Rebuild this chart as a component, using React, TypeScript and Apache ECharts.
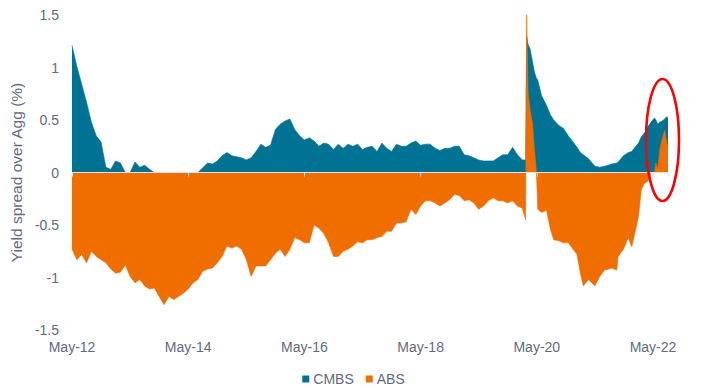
import React, { useEffect, useRef } from "react";
import * as echarts from "echarts";

// Month offsets from May-2012 (0 = May-12). Monthly values first, then finer detail from Feb-2020 on.
const cmbsMonthly = [
  1.21, 1.01, 0.84, 0.67, 0.48, 0.35, 0.29, 0.05, 0.03, 0.11,
  0.09, 0, 0, 0.1, 0.05, 0.07, 0.03, 0, 0, 0,
  0, 0, 0, 0, 0, 0, 0, 0.045, 0.09, 0.08,
  0.11, 0.16, 0.19, 0.16, 0.15, 0.14, 0.12, 0.14, 0.2, 0.27,
  0.24, 0.26, 0.41, 0.46, 0.49, 0.51, 0.41, 0.35, 0.31, 0.33,
  0.3, 0.25, 0.28, 0.27, 0.22, 0.27, 0.23, 0.27, 0.25, 0.27,
  0.22, 0.24, 0.25, 0.2, 0.28, 0.23, 0.2, 0.27, 0.25, 0.25,
  0.28, 0.3, 0.26, 0.27, 0.27, 0.23, 0.21, 0.23, 0.23, 0.25,
  0.25, 0.17, 0.16, 0.14, 0.12, 0.11, 0.11, 0.11, 0.14, 0.17,
  0.17, 0.24, 0.17, 0.12,
];
const absMonthly = [
  -0.73, -0.83, -0.78, -0.86, -0.75, -0.8, -0.83, -0.86, -0.92, -0.96,
  -0.95, -0.88, -0.99, -1.05, -1.02, -1.08, -1.11, -1.1, -1.18, -1.26,
  -1.18, -1.21, -1.18, -1.15, -1.11, -1.05, -1.02, -0.94, -0.92, -0.91,
  -0.86, -0.8, -0.7, -0.72, -0.7, -0.73, -0.83, -0.99, -0.89, -0.89,
  -0.89, -0.83, -0.77, -0.73, -0.8, -0.73, -0.62, -0.64, -0.67, -0.67,
  -0.5, -0.53, -0.58, -0.67, -0.8, -0.8, -0.75, -0.73, -0.7, -0.66,
  -0.67, -0.64, -0.64, -0.62, -0.61, -0.56, -0.56, -0.48, -0.48, -0.47,
  -0.35, -0.4, -0.32, -0.27, -0.27, -0.29, -0.32, -0.29, -0.26, -0.21,
  -0.22, -0.27, -0.26, -0.29, -0.35, -0.32, -0.27, -0.24, -0.27, -0.27,
  -0.29, -0.27, -0.32, -0.34,
];
const recentMonths = [
  93.7, 93.9, 94.2, 94.6, 95.1, 95.5, 95.9, 96.2, 97, 98,
  98.8, 99.5, 100.5, 101.5, 102.5, 103.5, 104.3, 105, 105.6, 106.7,
  108, 109, 110, 111.5, 112.5, 112.8, 113.9, 114.9, 115.6, 116.3,
  117, 117.6, 118.3, 119, 119.6, 120.3, 120.6, 121, 121.4, 121.9,
  122.4, 122.8, 123.1,
];
const cmbsRecent = [
  0.12, 1.3, 1.22, 1.18, 1.06, 0.96, 0.9, 0.88, 0.73, 0.64,
  0.55, 0.5, 0.45, 0.42, 0.35, 0.29, 0.24, 0.19, 0.17, 0.13,
  0.06, 0.05, 0.06, 0.08, 0.09, 0.1, 0.16, 0.19, 0.2, 0.24,
  0.28, 0.34, 0.38, 0.44, 0.48, 0.52, 0.5, 0.46, 0.48, 0.49,
  0.51, 0.53, 0.52,
];
const absRecent = [
  -0.45, 1.5, 0.75, 0.6, 0.47, 0.22, 0.02, -0.35, -0.38, -0.36,
  -0.54, -0.64, -0.65, -0.67, -0.67, -0.73, -0.78, -0.96, -1.08, -1.02,
  -1.08, -0.99, -0.93, -0.91, -0.93, -0.8, -0.73, -0.62, -0.71, -0.57,
  -0.42, -0.16, -0.1, -0.08, 0, 0, 0.09, 0.03, 0.22, 0.32,
  0.4, 0.29, 0.26,
];
const tickLabelYears = ["12", "14", "16", "18", "20", "22"];

const seriesData = (monthly: number[], recent: number[]) =>
  monthly.map((v, i) => [i, v]).concat(recent.map((v, i) => [recentMonths[i], v]));

const TEXT = "#5E6A88";
const FONT = 'Arial, "Liberation Sans", sans-serif';

export default function App() {
  const ref = useRef<HTMLDivElement>(null);
  useEffect(() => {
    if (!ref.current) return;
    const chart = echarts.init(ref.current, undefined, { renderer: "svg" });
    const xMax = recentMonths[recentMonths.length - 1];
    chart.setOption({
      animation: false,
      textStyle: { fontFamily: FONT },
      grid: { left: 69, right: 707 - 668, top: 15, bottom: 61 },
      legend: {
        data: ["CMBS", "ABS"],
        left: "center",
        top: 367,
        itemWidth: 7,
        itemHeight: 7,
        itemGap: 12,
        icon: "rect",
        textStyle: { color: TEXT, fontSize: 14, fontFamily: FONT, padding: [0, 0, 0, -1] },
      },
      xAxis: [
        {
          type: "value",
          min: 0,
          max: xMax,
          interval: 24,
          position: "bottom",
          axisLine: { show: false, onZero: false },
          axisTick: { show: false },
          splitLine: { show: false },
          axisLabel: {
            color: TEXT,
            fontSize: 14,
            fontFamily: FONT,
            margin: 10,
            showMaxLabel: false,
            formatter: (v: number) => {
              const k = Math.round(v / 24);
              return Math.abs(v - k * 24) < 1e-6 && tickLabelYears[k] ? "May-" + tickLabelYears[k] : "";
            },
          },
        },
        {
          type: "value",
          min: 0,
          max: xMax,
          interval: 24,
          position: "top",
          z: 10,
          axisLine: { show: true, onZero: true, lineStyle: { color: "#E3E3E3", width: 1.2 } },
          axisTick: { show: true, inside: true, length: 4, lineStyle: { color: "#E3E3E3" } },
          axisLabel: { show: false },
          splitLine: { show: false },
        },
      ],
      yAxis: {
        type: "value",
        min: -1.5,
        max: 1.5,
        interval: 0.5,
        name: "Yield spread over Agg (%)",
        nameLocation: "middle",
        nameGap: 43,
        nameTextStyle: { color: TEXT, fontSize: 15.5, fontFamily: FONT },
        axisLine: { show: false },
        axisTick: { show: false },
        splitLine: { show: false },
        axisLabel: { color: TEXT, fontSize: 14, fontFamily: FONT, margin: 13 },
      },
      series: [
        {
          name: "CMBS",
          type: "line",
          xAxisIndex: 0,
          data: seriesData(cmbsMonthly, cmbsRecent),
          showSymbol: false,
          symbol: "none",
          lineStyle: { width: 0.6, color: "#007394" },
          itemStyle: { color: "#007394" },
          areaStyle: { color: "#007394", opacity: 1 },
          z: 2,
        },
        {
          name: "ABS",
          type: "line",
          xAxisIndex: 0,
          data: seriesData(absMonthly, absRecent),
          showSymbol: false,
          symbol: "none",
          lineStyle: { width: 0.6, color: "#F06E00" },
          itemStyle: { color: "#F06E00" },
          areaStyle: { color: "#F06E00", opacity: 1 },
          z: 3,
        },
      ],
      graphic: [
        {
          type: "ellipse",
          z: 100,
          shape: { cx: 662.5, cy: 140, rx: 16.5, ry: 61 },
          style: { fill: "none", stroke: "#FF0000", lineWidth: 2.6 },
        },
      ],
    });
    return () => chart.dispose();
  }, []);
  return (
    <div
      ref={ref}
      style={{ position: "fixed", left: 0, top: 0, width: 707, height: 391, background: "#fff" }}
    />
  );
}
